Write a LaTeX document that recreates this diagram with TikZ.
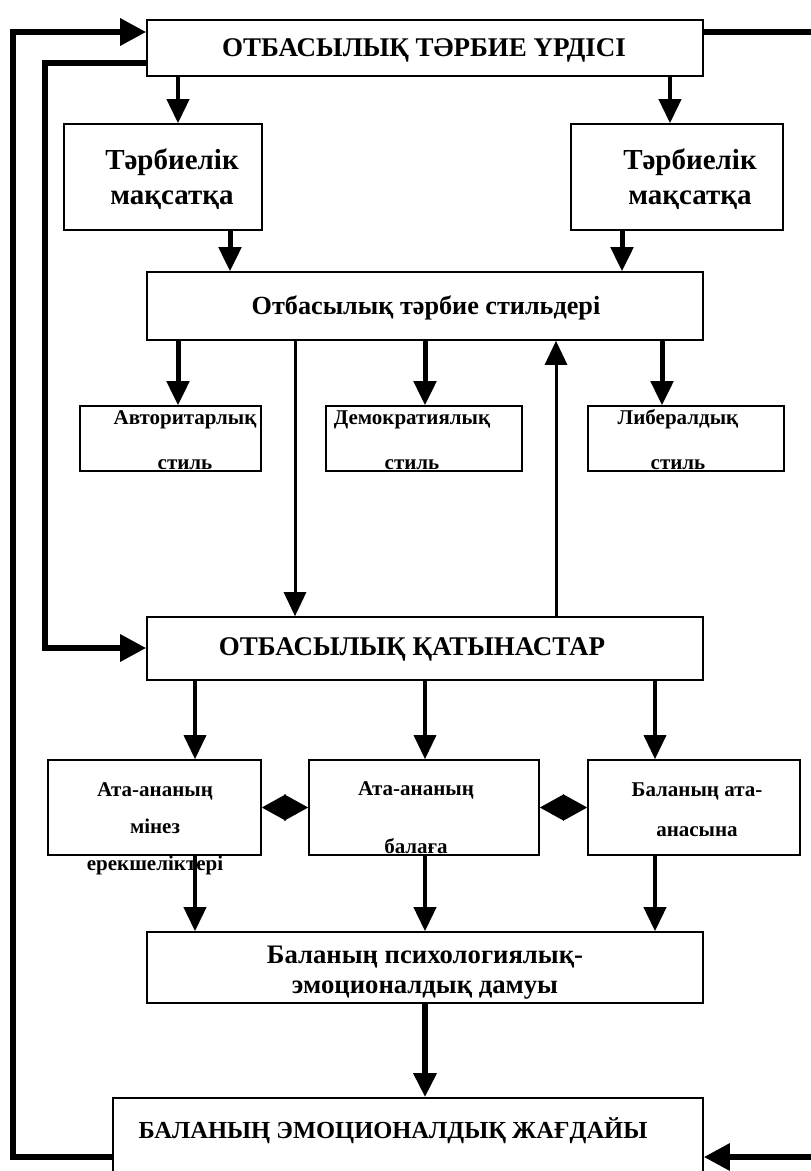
\documentclass[tikz,border=0pt]{standalone}
\usepackage{fontspec}
\setmainfont{Liberation Serif}
\usetikzlibrary{arrows.meta}

\newcommand{\fsz}[2]{\fontsize{#1}{#2}\selectfont\bfseries}

\begin{document}
\begin{tikzpicture}[x=1pt, y=-1pt, >={Triangle[length=24pt,width=22pt]},
    box/.style={draw, line width=1.6pt, rectangle, inner sep=0pt},
    txt/.style={align=center, inner sep=0pt},
    cut/.style={txt, anchor=south, text depth=0pt, font=\fsz{21}{45}},
    fb/.style={line width=6pt, >={Triangle[length=26pt,width=26pt]}},
    arr/.style={->, line width=4pt},
    dia/.style={arrows={Triangle[length=24pt,width=26pt]-Triangle[length=24pt,width=26pt]}, line width=2pt}]
    \clip (0,0) rectangle (811,1171);

    % boxes
    \node[box, minimum width=556, minimum height=56] (top) at (425,48) {};
    \node[box, minimum width=198, minimum height=106] (goalL) at (163,177) {};
    \node[box, minimum width=212, minimum height=106] (goalR) at (677,177) {};
    \node[box, minimum width=556, minimum height=68] (styles) at (425,306) {};
    \node[box, minimum width=181, minimum height=65] (auth) at (170.5,438.5) {};
    \node[box, minimum width=196, minimum height=65] (demo) at (424,438.5) {};
    \node[box, minimum width=196, minimum height=65] (lib) at (686,438.5) {};
    \node[box, minimum width=556, minimum height=63] (rel) at (425,648.5) {};
    \node[box, minimum width=213, minimum height=95] (char) at (154.5,807.5) {};
    \node[box, minimum width=230, minimum height=95] (attit) at (424,807.5) {};
    \node[box, minimum width=212, minimum height=95] (child) at (694,807.5) {};
    \node[box, minimum width=556, minimum height=71] (psych) at (425,967.5) {};
    \node[box, minimum width=590, minimum height=102] (emo) at (408,1149) {};

    % texts
    \node[txt, font=\fsz{27}{32}] (topT) at (424,50) {ОТБАСЫЛЫҚ ТӘРБИЕ ҮРДІСІ};
    \node[txt, font=\fsz{29}{35}] (goalLT) at (172,179) {Тәрбиелік\\мақсатқа};
    \node[txt, font=\fsz{29}{35}] (goalRT) at (690,179) {Тәрбиелік\\мақсатқа};
    \node[txt, font=\fsz{26.2}{31}] (stylesT) at (426,308) {Отбасылық тәрбие стильдері};
    \begin{scope}
        \clip (auth.south west) rectangle (auth.north east);
        \node[cut] (authT) at (185,469.5) {Авторитарлық\\стиль};
    \end{scope}
    \begin{scope}
        \clip (demo.south west) rectangle (demo.north east);
        \node[cut] (demoT) at (412,469.5) {Демократиялық\\стиль};
    \end{scope}
    \begin{scope}
        \clip (lib.south west) rectangle (lib.north east);
        \node[cut] (libT) at (678,469.5) {Либералдық\\стиль};
    \end{scope}
    \node[txt, font=\fsz{27}{32}] (relT) at (412,649) {ОТБАСЫЛЫҚ ҚАТЫНАСТАР};
    \node[txt, font=\fsz{21}{37}] (charT) at (155,829) {Ата-ананың\\мінез\\ерекшеліктері};
    \begin{scope}
        \clip (attit.south west) rectangle (attit.north east);
        \node[cut, font=\fsz{21}{58}] (attitT) at (416,854) {Ата-ананың\\балаға};
    \end{scope}
    \node[txt, font=\fsz{21}{40}] (childT) at (697,810) {Баланың ата-\\анасына};
    \node[txt, font=\fsz{26.7}{30}, text depth=0pt] (psychT) at (425,970) {Баланың психологиялық-\\эмоционалдық дамуы};
    \node[txt, font=\fsz{24.5}{30}] (emoT) at (393,1131) {БАЛАНЫҢ ЭМОЦИОНАЛДЫҚ ЖАҒДАЙЫ};

    % feedback loops
    \coordinate (lo) at (13,1157);
    \coordinate (lt) at (13,32);
    \coordinate (li) at (45,63);
    \coordinate (lb) at (45,648);
    \coordinate (rt) at (815,32);
    \coordinate (rb) at (815,1157);
    \draw[fb, ->] (emo.west |- lo) -- (lo) -- (lt) -- (top.west |- lt);
    \draw[fb, ->] (top.west |- li) -- (li) -- (lb) -- (rel.west |- lb);
    \draw[fb] (top.east |- rt) -- (rt);
    \draw[fb, ->] (rb) -- (emo.east |- rb);

    % top -> goals -> styles
    \draw[arr] (top.south -| 178,0) -- (goalL.north -| 178,0);
    \draw[arr] (top.south -| 670,0) -- (goalR.north -| 670,0);
    \draw[arr, line width=5pt] (goalL.south -| 230,0) -- (styles.north -| 230,0);
    \draw[arr, line width=5pt] (goalR.south -| 622,0) -- (styles.north -| 622,0);

    % styles -> kinds
    \draw[arr, line width=5pt] (styles.south -| 178,0) -- (auth.north -| 178,0);
    \draw[arr, line width=5pt] (styles.south -| 425,0) -- (demo.north -| 425,0);
    \draw[arr, line width=5pt] (styles.south -| 662,0) -- (lib.north -| 662,0);

    % styles <-> relations
    \draw[arr, line width=3pt] (styles.south -| 295,0) -- (rel.north -| 295,0);
    \draw[arr, line width=3pt] (rel.north -| 556,0) -- (styles.south -| 556,0);

    % relations -> three boxes
    \draw[arr, line width=3.5pt] (rel.south -| 195,0) -- (char.north -| 195,0);
    \draw[arr, line width=3.5pt] (rel.south -| 425,0) -- (attit.north -| 425,0);
    \draw[arr, line width=3.5pt] (rel.south -| 655,0) -- (child.north -| 655,0);
    \draw[dia] (char.east) -- (attit.west);
    \draw[dia] (attit.east) -- (child.west);

    % three boxes -> development -> state
    \draw[arr] (char.south -| 195,0) -- (psych.north -| 195,0);
    \draw[arr] (attit.south -| 425,0) -- (psych.north -| 425,0);
    \draw[arr] (child.south -| 655,0) -- (psych.north -| 655,0);
    \draw[arr, line width=6pt] (psych.south) -- (psych.south |- emo.north);
\end{tikzpicture}
\end{document}
